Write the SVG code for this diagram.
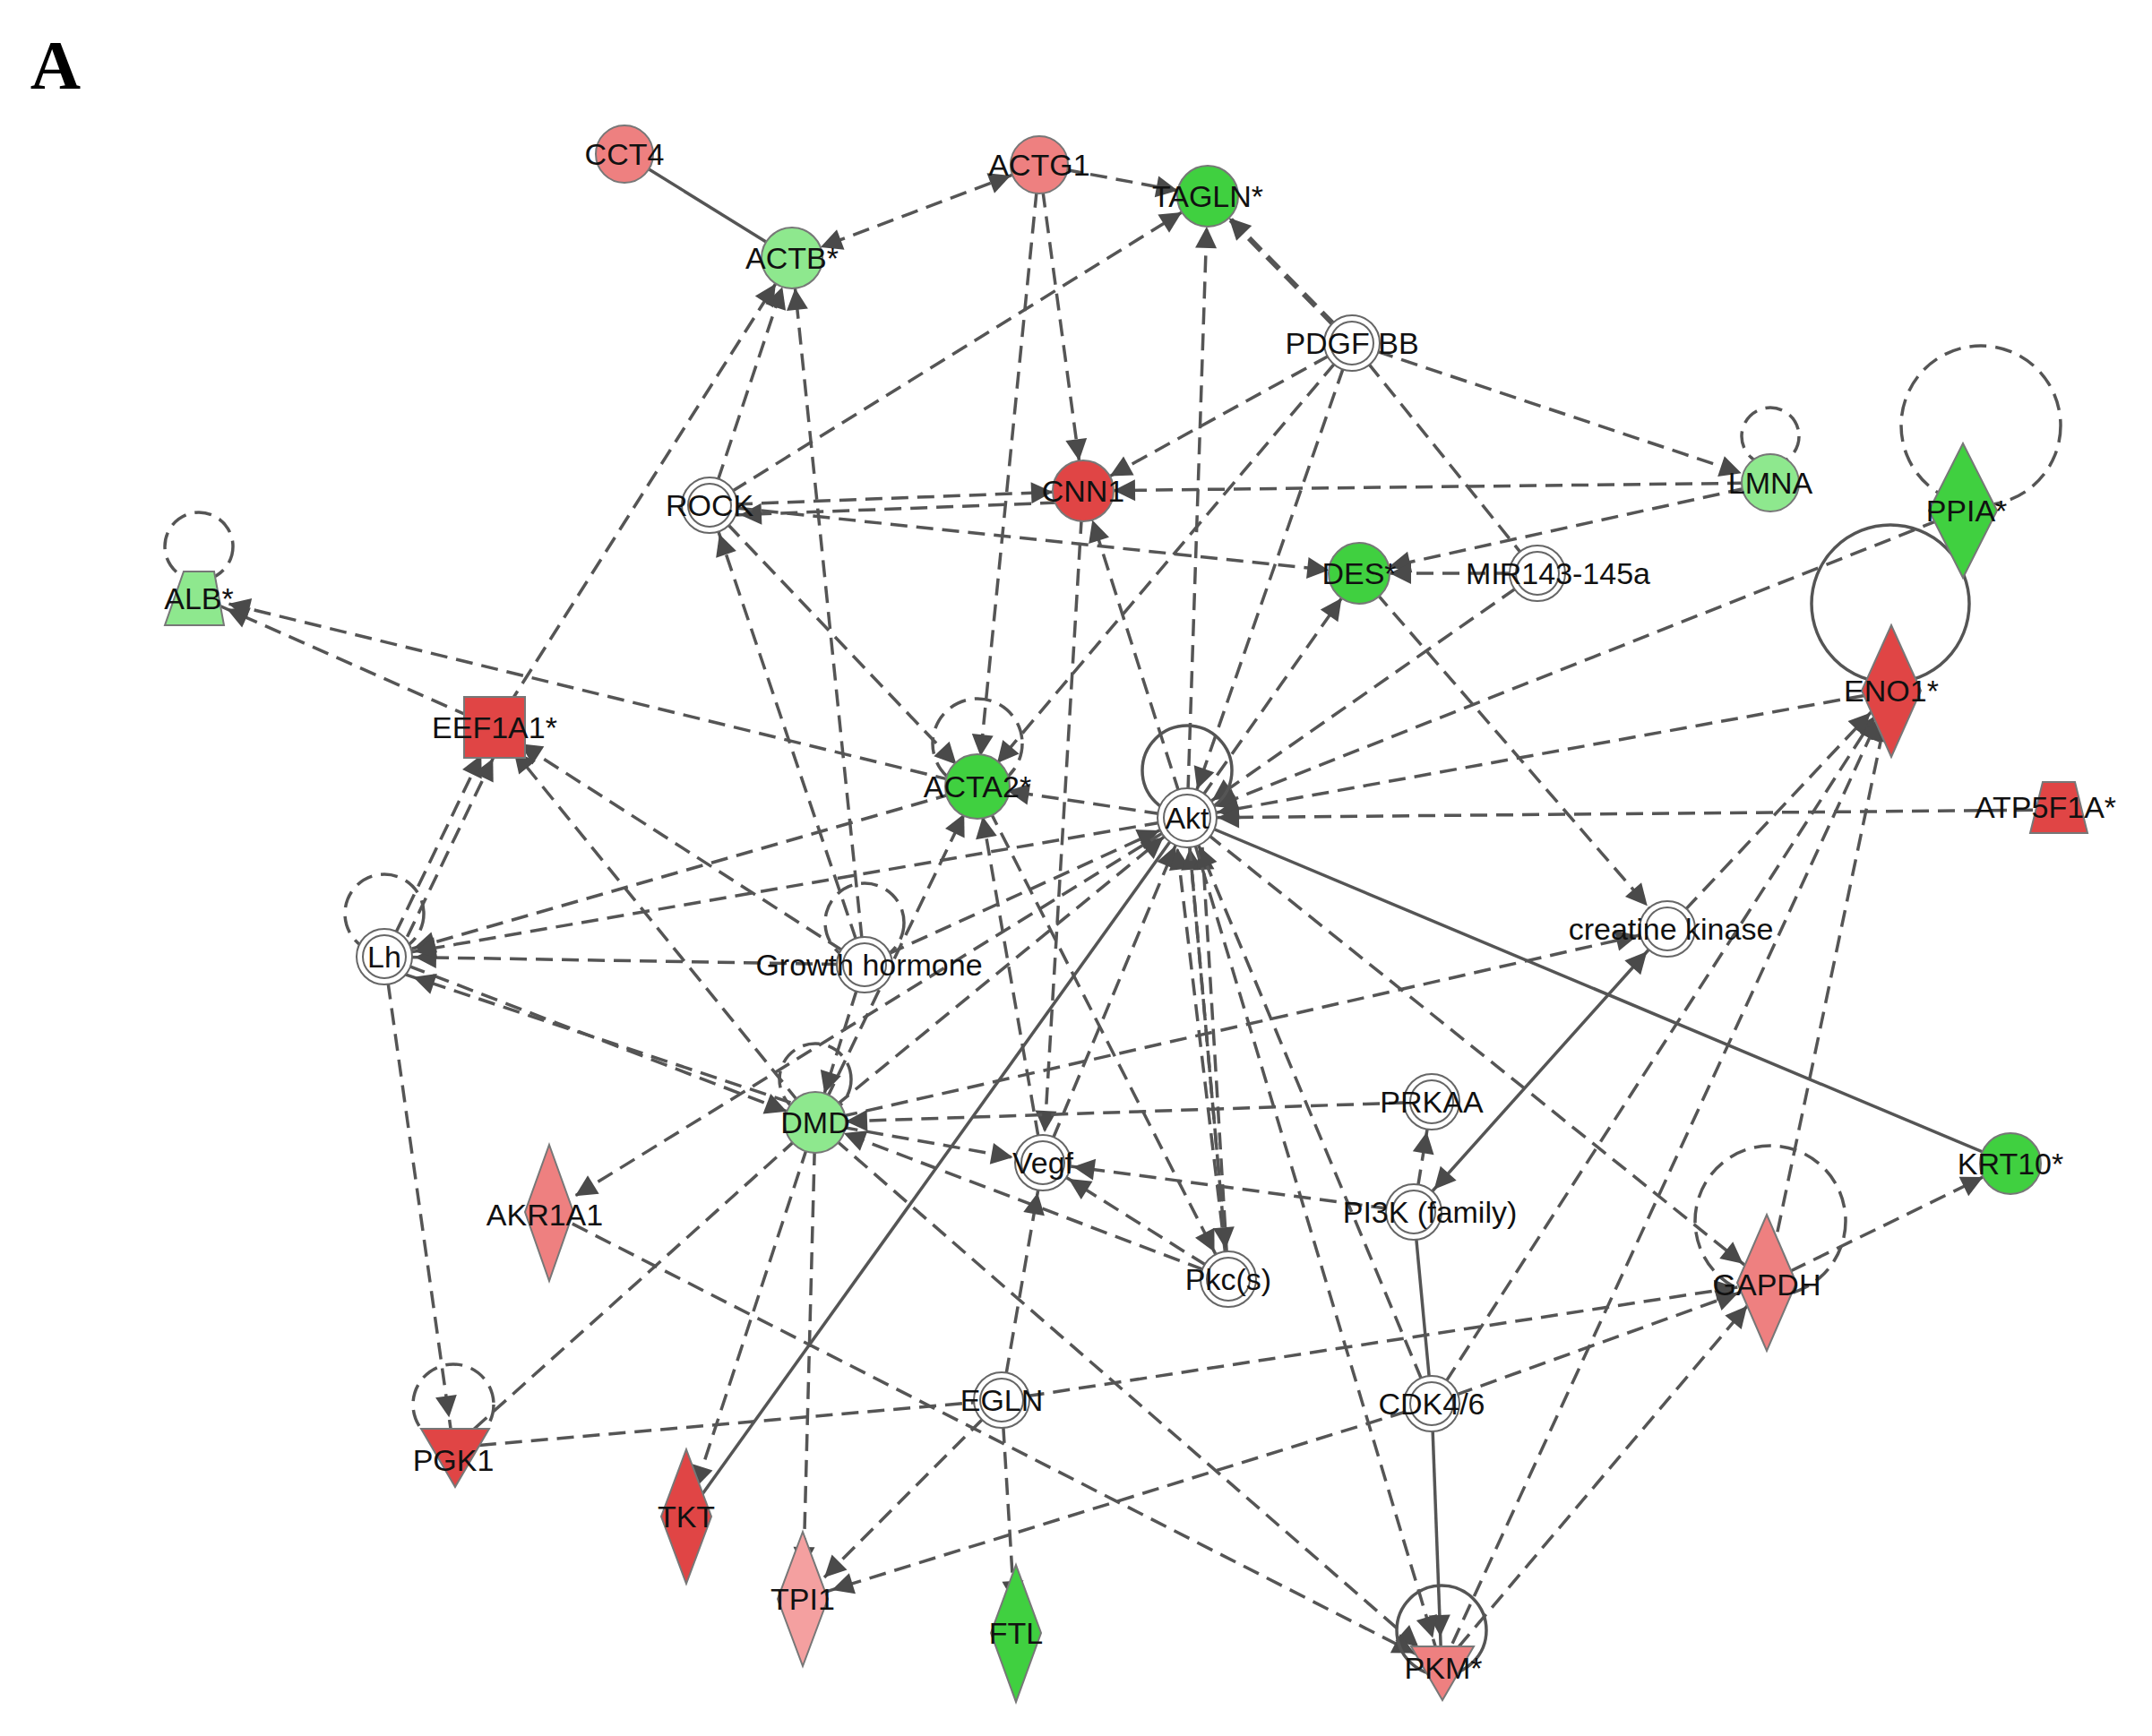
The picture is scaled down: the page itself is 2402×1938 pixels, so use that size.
<svg xmlns="http://www.w3.org/2000/svg" width="2402" height="1938" viewBox="0 0 2402 1938">
<style>
.d{stroke:#555;stroke-width:3.5;fill:none;stroke-dasharray:19 10}
.s{stroke:#555;stroke-width:3.5;fill:none}
.a{marker-end:url(#ar)}
.b{marker-start:url(#ar);marker-end:url(#ar)}
.loop{fill:none;stroke:#555;stroke-width:3.5}
.n{stroke:#777;stroke-width:2}
.w{fill:#fff;stroke:#666;stroke-width:2}
text{font-family:"Liberation Sans",Arial,sans-serif;font-size:34px;fill:#111;text-anchor:middle;dominant-baseline:central}
.pk{fill:#ee8080}.rd{fill:#e04545}.lg{fill:#8ee88e}.gr{fill:#40d040}
</style>
<defs>
<marker id="ar" markerUnits="userSpaceOnUse" orient="auto-start-reverse" overflow="visible" refX="0" refY="0" markerWidth="1" markerHeight="1">
<path d="M-34,0 L-58,-12 L-58,12 Z" fill="#4a4a4a"/>
</marker>
</defs>
<rect width="2402" height="1938" fill="#fff"/>
<text x="62" y="72" style="font-family:'Liberation Serif',serif;font-weight:bold;font-size:78px;fill:#000">A</text>
<g id="connectors">
<path class="s" d="M697,172 L884,288"/>
<path class="d b" d="M1160,184 L884,288"/>
<path class="d a" d="M1160,184 L1348,219"/>
<path class="d a" d="M1160,184 L1209,548"/>
<path class="d a" d="M1160,184 L1091,878"/>
<path class="d a" style="stroke-width:6" d="M1509,383 L1348,219"/>
<path class="d a" d="M1509,383 L1209,548"/>
<path class="d a" d="M1509,383 L1976,539"/>
<path class="d a" d="M1509,383 L1091,878"/>
<path class="d a" d="M1509,383 L1325,913"/>
<path class="d" d="M1509,383 L1716,640"/>
<path class="d a" d="M792,564 L1348,219"/>
<path class="d a" d="M792,564 L1209,548"/>
<path class="d a" d="M1209,560 L792,576"/>
<path class="d a" d="M792,564 L1517,640"/>
<path class="d a" d="M792,564 L884,288"/>
<path class="d a" d="M792,564 L1091,878"/>
<path class="d a" d="M552,812 L884,288"/>
<path class="d a" d="M552,812 L222,666"/>
<path class="d a" d="M1091,878 L222,666"/>
<path class="d a" d="M1976,539 L1209,548"/>
<path class="d a" d="M1976,539 L1517,640"/>
<path class="d a" d="M1716,640 L1517,640"/>
<path class="d a" d="M1716,640 L1325,913"/>
<path class="d a" d="M2191,570 L1325,913"/>
<path class="d a" d="M2111,771 L1325,913"/>
<path class="d a" d="M2298,904 L1325,913"/>
<path class="s" d="M1325,913 L2244,1299"/>
<path class="d a" d="M1517,640 L1861,1037"/>
<path class="d a" d="M1325,913 L1517,640"/>
<path class="d a" d="M1325,913 L1348,219"/>
<path class="d a" d="M1325,913 L1091,878"/>
<path class="d a" d="M1325,913 L1209,548"/>
<path class="d a" d="M965,1077 L884,288"/>
<path class="d a" d="M965,1077 L792,564"/>
<path class="d a" d="M965,1077 L552,812"/>
<path class="d a" d="M965,1077 L429,1068"/>
<path class="d a" d="M965,1077 L910,1253"/>
<path class="d a" d="M965,1077 L1325,913"/>
<path class="d a" d="M429,1068 L552,812"/>
<path class="d a" d="M442,1072 L565,816"/>
<path class="d a" d="M429,1068 L506,1616"/>
<path class="d a" d="M429,1068 L910,1253"/>
<path class="d a" d="M910,1240 L429,1080"/>
<path class="d a" d="M1091,878 L429,1068"/>
<path class="d a" d="M1325,913 L429,1068"/>
<path class="d a" d="M910,1253 L552,812"/>
<path class="d a" d="M910,1253 L1325,913"/>
<path class="d a" d="M910,1253 L1164,1298"/>
<path class="d a" d="M910,1253 L766,1693"/>
<path class="d a" d="M910,1253 L896,1785"/>
<path class="d" d="M910,1253 L506,1616"/>
<path class="d a" d="M910,1253 L1609,1861"/>
<path class="d a" d="M910,1253 L1861,1037"/>
<path class="d a" d="M910,1253 L1091,878"/>
<path class="d a" d="M1325,913 L613,1353"/>
<path class="d a" d="M1164,1298 L1091,878"/>
<path class="d a" d="M1164,1298 L1325,913"/>
<path class="d a" d="M1209,548 L1164,1298"/>
<path class="d a" d="M1371,1428 L1310,913"/>
<path class="d a" d="M1371,1428 L1325,913"/>
<path class="d a" d="M1371,1428 L1340,913"/>
<path class="d a" d="M1371,1428 L1164,1298"/>
<path class="d a" d="M1371,1428 L910,1253"/>
<path class="d a" d="M1325,913 L1371,1428"/>
<path class="d a" d="M1091,878 L1371,1428"/>
<path class="d a" d="M1578,1353 L1164,1298"/>
<path class="d a" d="M1578,1353 L1598,1230"/>
<path class="d a" d="M1598,1230 L910,1253"/>
<path class="s b" d="M1861,1037 L1578,1353"/>
<path class="s" d="M1578,1353 L1598,1567"/>
<path class="s a" d="M1598,1567 L1609,1861"/>
<path class="d a" d="M1598,1567 L1972,1432"/>
<path class="d a" d="M1598,1567 L896,1785"/>
<path class="d a" d="M1598,1567 L2111,771"/>
<path class="d a" d="M1598,1567 L1325,913"/>
<path class="d a" d="M1325,913 L1609,1861"/>
<path class="d a" d="M1972,1432 L2244,1299"/>
<path class="d a" d="M1972,1432 L2111,771"/>
<path class="d a" d="M1609,1861 L1972,1432"/>
<path class="d a" d="M1609,1861 L2111,771"/>
<path class="d a" d="M1325,913 L1972,1432"/>
<path class="d" d="M506,1616 L1118,1563"/>
<path class="d a" d="M1118,1563 L1972,1432"/>
<path class="d a" d="M1118,1563 L1164,1298"/>
<path class="d a" d="M1118,1563 L896,1785"/>
<path class="d a" d="M1118,1563 L1134,1823"/>
<path class="d a" d="M613,1353 L1609,1861"/>
<path class="s" d="M766,1693 L1325,913"/>
<path class="d a" d="M1861,1037 L2111,771"/>
</g>
<g id="loops">
<circle class="loop" style="stroke-dasharray:19 10" cx="222" cy="610" r="38"/>
<circle class="loop" style="stroke-dasharray:19 10" cx="1976" cy="487" r="32"/>
<circle class="loop" style="stroke-dasharray:19 10" cx="2211" cy="475" r="89"/>
<circle class="loop" cx="2110" cy="674" r="88"/>
<circle class="loop" style="stroke-dasharray:19 10" cx="1091" cy="830" r="50"/>
<circle class="loop" cx="1325" cy="860" r="50"/>
<circle class="loop" style="stroke-dasharray:19 10" cx="429" cy="1020" r="44"/>
<circle class="loop" style="stroke-dasharray:19 10" cx="965" cy="1030" r="44"/>
<circle class="loop" style="stroke-dasharray:19 10" cx="910" cy="1205" r="40"/>
<circle class="loop" style="stroke-dasharray:19 10" cx="506" cy="1568" r="45"/>
<circle class="loop" style="stroke-dasharray:19 10" cx="1976" cy="1363" r="84"/>
<circle class="loop" cx="1609" cy="1820" r="50"/>
</g>
<g id="CCT4"><circle class="n pk" cx="697" cy="172" r="32"/><text x="697" y="172">CCT4</text></g>
<g id="ACTG1"><circle class="n pk" cx="1160" cy="184" r="32"/><text x="1160" y="184">ACTG1</text></g>
<g id="TAGLN"><circle class="n gr" cx="1348" cy="219" r="34"/><text x="1348" y="219">TAGLN*</text></g>
<g id="ACTB"><circle class="n lg" cx="884" cy="288" r="34"/><text x="884" y="288">ACTB*</text></g>
<g id="PDGFBB"><circle class="w" cx="1509" cy="383" r="31"/><circle class="w" cx="1509" cy="383" r="24"/><text x="1509" y="383">PDGF BB</text></g>
<g id="CNN1"><circle class="n rd" cx="1209" cy="548" r="34"/><text x="1209" y="548">CNN1</text></g>
<g id="ROCK"><circle class="w" cx="792" cy="564" r="31"/><circle class="w" cx="792" cy="564" r="24"/><text x="792" y="564">ROCK</text></g>
<g id="LMNA"><circle class="n lg" cx="1976" cy="539" r="32"/><text x="1976" y="539">LMNA</text></g>
<g id="PPIA"><path class="n gr" d="M2191,495 L2229,570 L2191,645 L2153,570 Z"/><text x="2195" y="570">PPIA*</text></g>
<g id="ALB"><path class="n lg" d="M205,638 L239,638 L250,698 L184,698 Z"/><text x="222" y="668">ALB*</text></g>
<g id="DES"><circle class="n gr" cx="1517" cy="640" r="34"/><text x="1517" y="640">DES*</text></g>
<g id="MIR143"><circle class="w" cx="1716" cy="640" r="31"/><circle class="w" cx="1716" cy="640" r="24"/><text x="1739" y="640">MIR143-145a</text></g>
<g id="ENO1"><path class="n rd" d="M2111,698 L2144,771 L2111,845 L2078,771 Z"/><text x="2111" y="771">ENO1*</text></g>
<g id="EEF1A1"><rect class="n rd" x="518" y="778" width="68" height="68"/><text x="552" y="812">EEF1A1*</text></g>
<g id="ACTA2"><circle class="n gr" cx="1091" cy="878" r="36"/><text x="1091" y="878">ACTA2*</text></g>
<g id="Akt"><circle class="w" cx="1325" cy="913" r="33"/><circle class="w" cx="1325" cy="913" r="26"/><text x="1325" y="913">Akt</text></g>
<g id="ATP5F1A"><path class="n rd" d="M2280,873 L2316,873 L2330,930 L2266,930 Z"/><text x="2283" y="901">ATP5F1A*</text></g>
<g id="Lh"><circle class="w" cx="429" cy="1068" r="31"/><circle class="w" cx="429" cy="1068" r="24"/><text x="429" y="1068">Lh</text></g>
<g id="GH"><circle class="w" cx="965" cy="1077" r="31"/><circle class="w" cx="965" cy="1077" r="24"/><text x="970" y="1077">Growth hormone</text></g>
<g id="CK"><circle class="w" cx="1861" cy="1037" r="31"/><circle class="w" cx="1861" cy="1037" r="24"/><text x="1865" y="1037">creatine kinase</text></g>
<g id="DMD"><circle class="n lg" cx="910" cy="1253" r="34"/><text x="910" y="1253">DMD</text></g>
<g id="PRKAA"><circle class="w" cx="1598" cy="1230" r="31"/><circle class="w" cx="1598" cy="1230" r="24"/><text x="1598" y="1230">PRKAA</text></g>
<g id="Vegf"><circle class="w" cx="1164" cy="1298" r="31"/><circle class="w" cx="1164" cy="1298" r="24"/><text x="1164" y="1298">Vegf</text></g>
<g id="AKR1A1"><path class="n pk" d="M613,1278 L640,1353 L613,1430 L586,1353 Z"/><text x="608" y="1356">AKR1A1</text></g>
<g id="PI3K"><circle class="w" cx="1578" cy="1353" r="31"/><circle class="w" cx="1578" cy="1353" r="24"/><text x="1596" y="1353">PI3K (family)</text></g>
<g id="KRT10"><circle class="n gr" cx="2244" cy="1299" r="34"/><text x="2244" y="1299">KRT10*</text></g>
<g id="Pkc"><circle class="w" cx="1371" cy="1428" r="31"/><circle class="w" cx="1371" cy="1428" r="24"/><text x="1371" y="1428">Pkc(s)</text></g>
<g id="GAPDH"><path class="n pk" d="M1972,1356 L2005,1432 L1972,1508 L1939,1432 Z"/><text x="1972" y="1434">GAPDH</text></g>
<g id="EGLN"><circle class="w" cx="1118" cy="1563" r="31"/><circle class="w" cx="1118" cy="1563" r="24"/><text x="1118" y="1563">EGLN</text></g>
<g id="CDK46"><circle class="w" cx="1598" cy="1567" r="31"/><circle class="w" cx="1598" cy="1567" r="24"/><text x="1598" y="1567">CDK4/6</text></g>
<g id="PGK1"><path class="n rd" d="M470,1595 L546,1595 L508,1660 Z"/><text x="506" y="1630">PGK1</text></g>
<g id="TKT"><path class="n rd" d="M766,1618 L794,1693 L766,1768 L738,1693 Z"/><text x="766" y="1693">TKT</text></g>
<g id="TPI1"><path class="n" style="fill:#f4a0a0" d="M896,1710 L924,1785 L896,1860 L868,1785 Z"/><text x="896" y="1785">TPI1</text></g>
<g id="FTL"><path class="n gr" d="M1134,1747 L1162,1823 L1134,1900 L1106,1823 Z"/><text x="1134" y="1823">FTL</text></g>
<g id="PKM"><path class="n pk" d="M1575,1838 L1645,1838 L1610,1898 Z"/><text x="1611" y="1862">PKM*</text></g>
</svg>
